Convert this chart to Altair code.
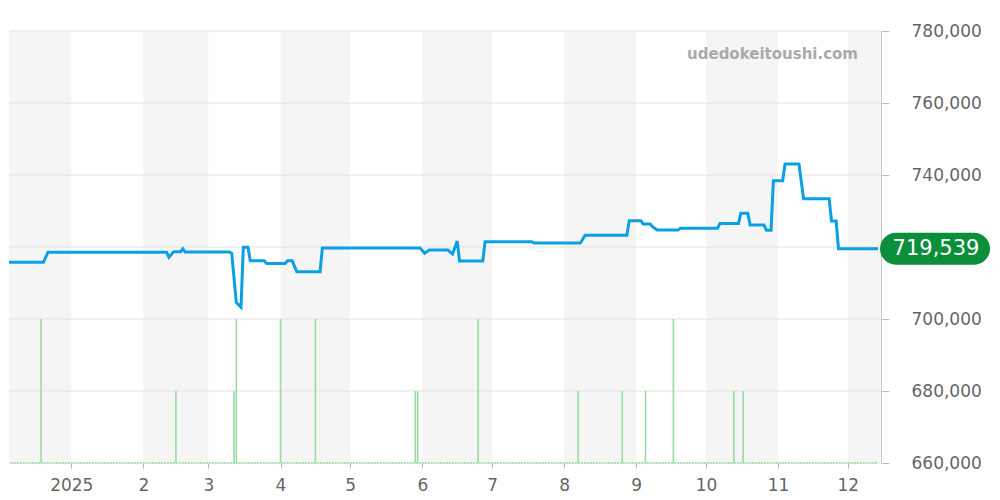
import altair as alt
import pandas as pd

# ---- data ----
price_dates = [
    "2024-12-02", "2024-12-20", "2024-12-22", "2025-02-11", "2025-02-12", "2025-02-14",
    "2025-02-17", "2025-02-18", "2025-02-19", "2025-03-10", "2025-03-11", "2025-03-13",
    "2025-03-15", "2025-03-16", "2025-03-18", "2025-03-19", "2025-03-25", "2025-03-26",
    "2025-04-03", "2025-04-04", "2025-04-06", "2025-04-08", "2025-04-18", "2025-04-19",
    "2025-05-31", "2025-06-02", "2025-06-04", "2025-06-12", "2025-06-14", "2025-06-16",
    "2025-06-17", "2025-06-27", "2025-06-28", "2025-07-18", "2025-07-19", "2025-08-08",
    "2025-08-10", "2025-08-28", "2025-08-29", "2025-09-03", "2025-09-04", "2025-09-07",
    "2025-09-08", "2025-09-10", "2025-09-19", "2025-09-20", "2025-10-06", "2025-10-07",
    "2025-10-15", "2025-10-16", "2025-10-19", "2025-10-20", "2025-10-26", "2025-10-27",
    "2025-10-29", "2025-10-30", "2025-11-03", "2025-11-04", "2025-11-10", "2025-11-12",
    "2025-11-23", "2025-11-24", "2025-11-26", "2025-11-27", "2025-12-14",
]
price_values = [
    715750, 715750, 718550, 718550, 717150, 718650,
    718650, 719500, 718600, 718600, 718250, 704550,
    703250, 719900, 719900, 716200, 716200, 715450,
    715450, 716200, 716200, 713150, 713150, 719700,
    719700, 718250, 719150, 719150, 718050, 721650,
    716100, 716100, 721450, 721450, 721100, 721100,
    723250, 723250, 727300, 727300, 726400, 726400,
    725650, 724700, 724700, 725200, 725200, 726500,
    726500, 729350, 729350, 726100, 726100, 724650,
    724650, 738400, 738400, 743050, 743050, 733400,
    733400, 727200, 727200, 719539, 719539,
]

volume_dates = [
    "2024-12-19", "2025-02-15", "2025-03-12", "2025-03-13", "2025-04-01", "2025-04-16",
    "2025-05-29", "2025-05-30", "2025-06-25", "2025-08-07", "2025-08-26", "2025-09-05",
    "2025-09-17", "2025-10-13", "2025-10-17",
]
volume_values = [2, 1, 1, 2, 2, 2, 1, 1, 2, 1, 1, 1, 2, 1, 1]

band_starts = ["2024-12-01", "2025-02-01", "2025-04-01", "2025-06-01",
               "2025-08-01", "2025-10-01", "2025-12-01"]
band_ends = ["2025-01-01", "2025-03-01", "2025-05-01", "2025-07-01",
             "2025-09-01", "2025-11-01", "2026-01-01"]

grid_values = [660000, 680000, 700000, 720000, 740000, 760000, 780000]
label_values = [660000, 680000, 700000, 740000, 760000, 780000]  # 720,000 hidden by the pill
watermark = "udedokeitoushi.com"

# ---- tables ----
price_df = pd.DataFrame({"date": price_dates, "price": price_values})
last_df = price_df.tail(1)
vol_df = pd.DataFrame({"date": volume_dates, "vol": volume_values})
band_df = pd.DataFrame({"start": band_starts, "end": band_ends})
grid_df = pd.DataFrame({"g": grid_values})
base_df = pd.DataFrame({"start": ["2024-12-06"], "end": [price_dates[-1]], "v0": [0]})
wm_df = pd.DataFrame({"t": [watermark]})

W, H = 872, 432
FONT = "DejaVu Sans"

x_dom = [alt.DateTime(year=2024, month=12, date=5, hours=5, utc=True),
         alt.DateTime(year=2025, month=12, date=15, hours=7, utc=True)]
xscale = alt.Scale(type="utc", domain=x_dom, nice=False)
yscale = alt.Scale(domain=[660000, 780000], nice=False, zero=False)
vscale = alt.Scale(domain=[0, 6], nice=False)

month_vals = [alt.DateTime(year=2025, month=m, date=1, utc=True) for m in range(1, 13)]

bands = alt.Chart(band_df).mark_rect(color="#f5f5f5", clip=True).encode(
    x=alt.X("start:T", scale=xscale,
            axis=alt.Axis(values=month_vals, grid=False, domain=False,
                          tickSize=5, tickColor="#bbb", labelFontSize=17,
                          labelColor="#666", labelFont=FONT, labelPadding=9,
                          title=None,
                          labelExpr="utcmonth(datum.value) == 0 ? utcFormat(datum.value, '%Y') : '' + (utcmonth(datum.value) + 1)")),
    x2="end:T",
)

grid = alt.Chart(grid_df).mark_rule(color="#e3e3e3", strokeWidth=1).encode(
    y=alt.Y("g:Q", scale=yscale, axis=None)
)

bars = alt.Chart(vol_df).mark_rule(color="#98dca0", strokeWidth=1.6).encode(
    x=alt.X("date:T", scale=xscale),
    y=alt.Y("vol:Q", scale=vscale, axis=None),
    y2=alt.datum(0),
)

baseline = alt.Chart(base_df).mark_rule(color="#98dca0", strokeWidth=1.5,
                                        strokeDash=[2, 1]).encode(
    x=alt.X("start:T", scale=xscale),
    x2="end:T",
    y=alt.Y("v0:Q", scale=vscale, axis=None),
)

line = alt.Chart(price_df).mark_line(color="#0aa0e6", strokeWidth=3, clip=True).encode(
    x=alt.X("date:T", scale=xscale),
    y=alt.Y("price:Q", scale=yscale,
            axis=alt.Axis(orient="right", values=label_values, format=",.0f", grid=False,
                          domain=True, domainColor="#ccc", tickColor="#bbb",
                          tickSize=8, labelFontSize=17, labelColor="#666",
                          labelFont=FONT, labelPadding=22, title=None)),
)

pill = alt.Chart(last_df).mark_rect(color="#0c8f3a", cornerRadius=16,
                                    xOffset=2, x2Offset=112,
                                    yOffset=-16, y2Offset=16).encode(
    x=alt.X("date:T", scale=xscale),
    x2="date:T",
    y=alt.Y("price:Q", scale=yscale, axis=None),
    y2="price:Q",
)

pill_text = alt.Chart(last_df).mark_text(color="white", fontSize=21, font=FONT,
                                         dx=58, align="center", baseline="middle").encode(
    x=alt.X("date:T", scale=xscale),
    y=alt.Y("price:Q", scale=yscale, axis=None),
    text=alt.Text("price:Q", format=",.0f"),
)

wm = alt.Chart(wm_df).mark_text(color="#aaa", fontSize=15, fontWeight="bold", font=FONT,
                                align="right", baseline="middle").encode(
    x=alt.value(W - 23),
    y=alt.value(23),
    text="t:N",
)

chart = alt.layer(bands, grid, bars, baseline, line, pill, pill_text, wm).resolve_scale(
    y="independent"
).properties(
    width=W, height=H,
    padding={"left": 0, "top": 14, "right": 0, "bottom": 0},
).configure_view(stroke=None)

chart.save("out.html", embed_options={"renderer": "svg", "actions": False})
